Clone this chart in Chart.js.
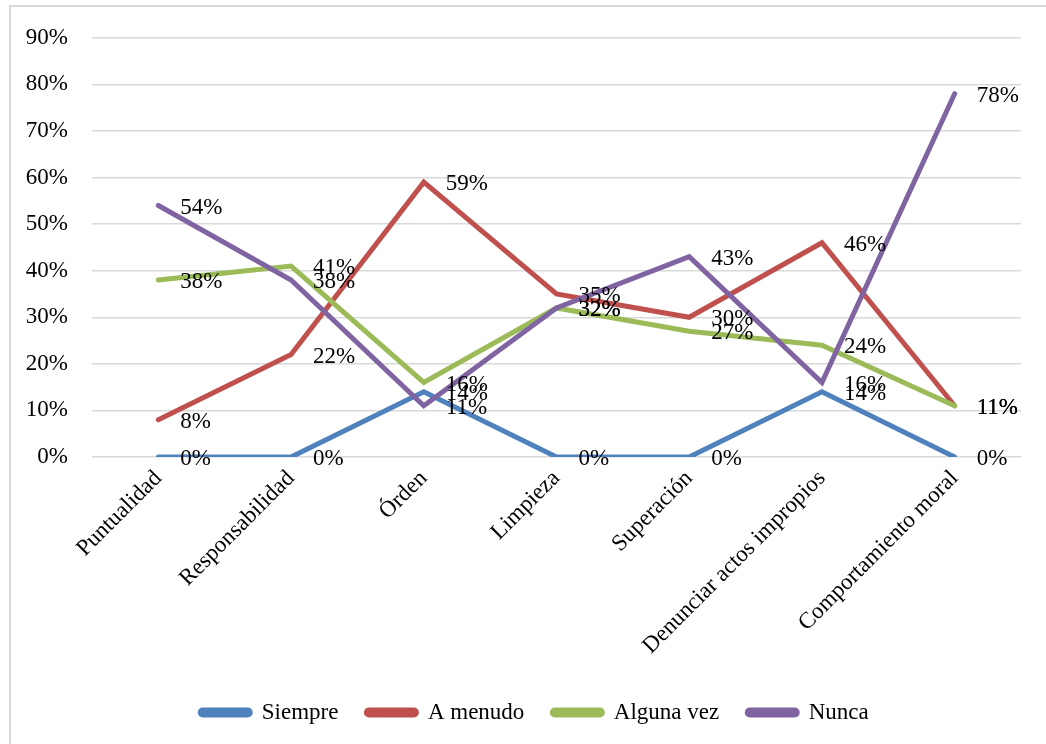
<!DOCTYPE html>
<html lang="es">
<head>
  <meta charset="UTF-8">
  <title>Valores</title>
  <style>
    body {
      margin: 0;
      padding: 0;
      background: #ffffff;
      overflow: hidden;
    }
    .frame {
      position: absolute;
      left: 9px;
      top: 5px;
      width: 1100px;
      height: 800px;
      border: 2px solid #d9d9d9;
    }
    .wrap {
      position: absolute;
      left: 0;
      top: 0;
      width: 1046px;
      height: 744px;
    }
  </style>
</head>
<body>
  <div class="frame"></div>
  <div class="wrap">
    <canvas id="chart" width="1046" height="744"></canvas>
  </div>

  <script src="https://cdn.jsdelivr.net/npm/chart.js"></script>
  <script>
    const categories = ['Puntualidad', 'Responsabilidad', 'Órden', 'Limpieza', 'Superación', 'Denunciar actos impropios', 'Comportamiento moral'];
    const siempre = [0, 0, 14, 0, 0, 14, 0];
    const aMenudo = [8, 22, 59, 35, 30, 46, 11];
    const algunaVez = [38, 41, 16, 32, 27, 24, 11];
    const nunca = [54, 38, 11, 32, 43, 16, 78];
    const yTicks = [0, 10, 20, 30, 40, 50, 60, 70, 80, 90];

    const serif = '"Liberation Serif", "Times New Roman", serif';

    // labels to the right of each point, like the Excel data labels
    const pointLabels = {
      id: 'pointLabels',
      afterDatasetsDraw(chart) {
        const ctx = chart.ctx;
        ctx.save();
        ctx.font = '23px ' + serif;
        ctx.fillStyle = '#000';
        ctx.textAlign = 'left';
        ctx.textBaseline = 'middle';
        chart.data.datasets.forEach((ds, i) => {
          const meta = chart.getDatasetMeta(i);
          meta.data.forEach((pt, j) => {
            ctx.fillText(ds.data[j] + '%', pt.x + 22, pt.y + 2);
          });
        });
        ctx.restore();
      }
    };

    // the legend in the original sits a little right of centre
    const shiftLegend = {
      id: 'shiftLegend',
      afterLayout(chart) {
        chart.legend.left += 24;
        chart.legend.right += 24;
      }
    };

    function series(label, data, color, order) {
      return {
        label: label,
        data: data,
        borderColor: color,
        backgroundColor: color,
        borderWidth: 5,
        borderCapStyle: 'round',
        borderJoinStyle: 'miter',
        pointRadius: 0,
        pointHoverRadius: 0,
        tension: 0,
        fill: false,
        order: order
      };
    }

    const ctx = document.getElementById('chart').getContext('2d');
    new Chart(ctx, {
      type: 'line',
      data: {
        labels: categories,
        datasets: [
          series('Siempre', siempre, '#4F81BD', 3),
          series('A menudo', aMenudo, '#C0504D', 2),
          series('Alguna vez', algunaVez, '#9BBB59', 1),
          series('Nunca', nunca, '#8064A2', 0)
        ]
      },
      options: {
        responsive: false,
        animation: false,
        layout: {
          padding: { left: 0, right: 25, top: 37, bottom: 10 }
        },
        scales: {
          x: {
            offset: true,
            grid: { display: false, drawTicks: false },
            border: { display: false },
            ticks: {
              color: '#000',
              font: { family: serif, size: 23 },
              maxRotation: 45,
              minRotation: 45,
              padding: 8,
              autoSkip: false
            },
            afterFit(scale) { scale.height = 216; }
          },
          y: {
            min: 0,
            max: 90,
            afterBuildTicks(scale) {
              scale.ticks = yTicks.map(v => ({ value: v }));
            },
            grid: { color: '#d9d9d9', lineWidth: 1.5, drawTicks: false },
            border: { display: false },
            ticks: {
              color: '#000',
              font: { family: serif, size: 23 },
              padding: 24,
              callback: v => v + '%'
            },
            afterFit(scale) { scale.width = 92; }
          }
        },
        plugins: {
          legend: {
            position: 'bottom',
            labels: {
              color: '#000',
              font: { family: serif, size: 23 },
              boxWidth: 50,
              boxHeight: 5,
              useBorderRadius: true,
              borderRadius: 2.5,
              padding: 28,
              sort: (a, b) => a.datasetIndex - b.datasetIndex
            }
          },
          tooltip: { enabled: false }
        }
      },
      plugins: [pointLabels, shiftLegend]
    });
  </script>
</body>
</html>
